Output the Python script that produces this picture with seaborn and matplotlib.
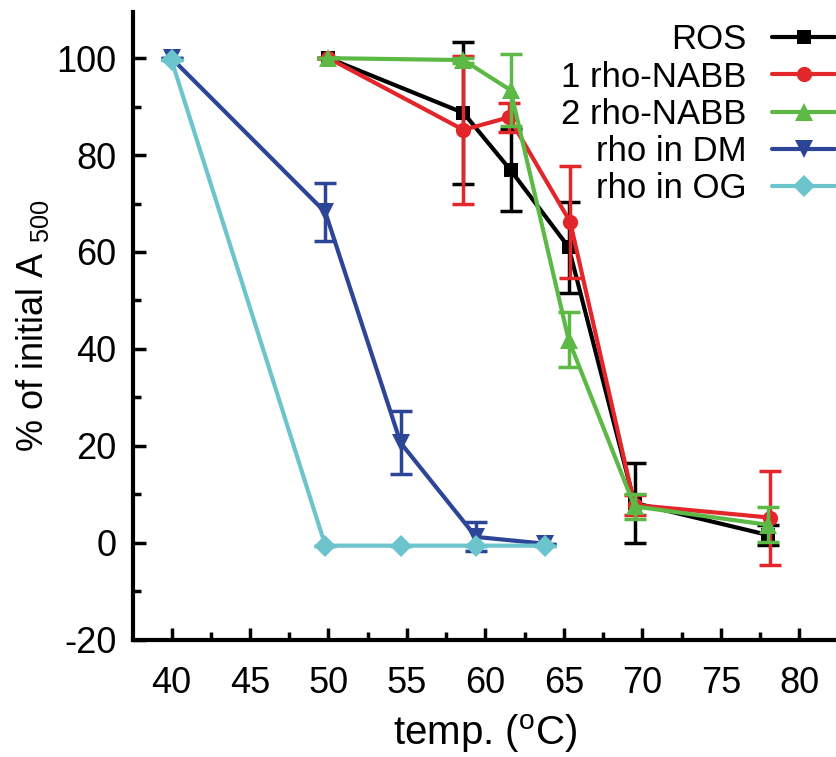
import matplotlib
matplotlib.use("Agg")
import matplotlib.pyplot as plt
from matplotlib import font_manager
from matplotlib.ticker import MultipleLocator
import seaborn as sns
import pandas as pd

# ---- data ----
x_ros = [50, 58.6, 61.6, 65.3, 69.5, 78.0]
y_ros = [100, 88.7, 76.9, 61.0, 8.2, 1.6]
e_ros = [0, 14.6, 8.5, 9.4, 8.2, 2.0]

x_r1 = [50, 58.6, 61.5, 65.4, 69.5, 78.1]
y_r1 = [100, 85.2, 87.8, 66.2, 7.8, 5.2]
e_r1 = [0, 15.3, 3.0, 11.5, 2.0, 9.7]

x_r2 = [50, 58.6, 61.6, 65.3, 69.5, 78.0]
y_r2 = [100, 99.6, 93.4, 41.9, 7.5, 3.7]
e_r2 = [0, 0.5, 7.4, 5.7, 2.5, 3.6]

x_dm = [40, 49.8, 54.6, 59.4, 63.8]
y_dm = [100, 68.2, 20.6, 1.2, -0.2]
e_dm = [0, 6.0, 6.5, 3.0, 0]

x_og = [40, 49.8, 54.6, 59.4, 63.8]
y_og = [99.6, -0.6, -0.6, -0.6, -0.6]
e_og = [0, 0, 0, 0, 0]

labels = ["ROS", "1 rho-NABB", "2 rho-NABB", "rho in DM", "rho in OG"]
xticks = [40, 45, 50, 55, 60, 65, 70, 75, 80]
yticks = [-20, 0, 20, 40, 60, 80, 100]

# ---- style ----
sns.set_style("ticks")
names = {f.name for f in font_manager.fontManager.ttflist}
fam = "Liberation Sans Narrow" if "Liberation Sans Narrow" in names else "Liberation Sans"
plt.rcParams["font.family"] = [fam, "DejaVu Sans"]
plt.rcParams["mathtext.fontset"] = "custom"
plt.rcParams["mathtext.rm"] = fam
plt.rcParams["mathtext.it"] = fam
plt.rcParams["axes.unicode_minus"] = False
for k in ["text.color", "axes.labelcolor", "xtick.color", "ytick.color", "axes.edgecolor"]:
    plt.rcParams[k] = "black"

colors = ["#000000", "#e3262a", "#5cb946", "#2d4596", "#6cc5cc"]
markers = ["s", "o", "^", "v", "D"]
msizes = [10, 11, 13, 13, 11]

fig = plt.figure(figsize=(8.37, 7.57), dpi=100)
ax = fig.add_axes([0.159, 0.155, 0.841, 0.829])

series = [(x_ros, y_ros, e_ros), (x_r1, y_r1, e_r1), (x_r2, y_r2, e_r2),
          (x_dm, y_dm, e_dm), (x_og, y_og, e_og)]

for i, ((xs, ys, es), lab) in enumerate(zip(series, labels)):
    df = pd.DataFrame({"x": xs, "y": ys})
    ax.errorbar(xs, ys, yerr=es, fmt="none", ecolor=colors[i], elinewidth=2.5,
                capsize=8, capthick=2.5, zorder=2 + i)
    sns.lineplot(data=df, x="x", y="y", ax=ax, color=colors[i], marker=markers[i],
                 markersize=msizes[i], markeredgewidth=0, linewidth=3,
                 label=lab, zorder=3 + i, sort=False)

ax.set_xlim(37.55, 82.4)
ax.set_ylim(-20, 109.5)
ax.set_xticks(xticks)
ax.set_yticks(yticks)
ax.xaxis.set_minor_locator(MultipleLocator(2.5))
ax.yaxis.set_minor_locator(MultipleLocator(10))
ax.tick_params(which="major", direction="in", length=9, width=2.5, labelsize=26, pad=12)
ax.tick_params(axis="x", which="major", pad=19)
ax.tick_params(which="minor", direction="in", length=6, width=2.5)
for s in ["top", "right"]:
    ax.spines[s].set_visible(False)
for s in ["left", "bottom"]:
    ax.spines[s].set_linewidth(3)

ax.set_xlabel(r"temp. ($^{\mathrm{o}}$C)", fontsize=29, labelpad=8)
ax.set_ylabel(r"% of initial A $_{500}$", fontsize=26, labelpad=4)

leg = ax.legend(loc="upper right", bbox_to_anchor=(0.997, 0.982), frameon=False,
                markerfirst=False, fontsize=25, handlelength=1.8, labelspacing=0.12,
                handletextpad=0.75, borderaxespad=0, borderpad=0)
for t in leg.get_texts():
    t.set_ha("right")
leg._legend_box.align = "right"

fig.savefig("out.png", dpi=100)
